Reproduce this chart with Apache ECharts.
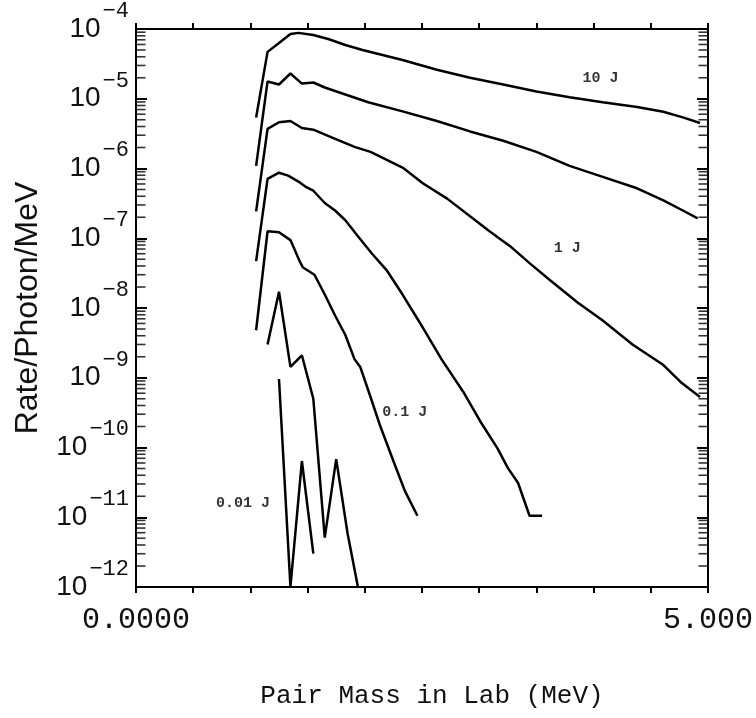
<!DOCTYPE html>
<html>
<head>
<meta charset="utf-8">
<script src="https://cdn.jsdelivr.net/npm/echarts@6/dist/echarts.min.js"></script>
<style>
    html, body { margin: 0; padding: 0; background: #fff; }
    #chart { width: 756px; height: 718px; }
</style>
</head>
<body>
<div id="chart"></div>
<script>
    // pair mass in lab (MeV) vs rate / photon / MeV
    var rate10J = [[1.05, 5.4e-6], [1.15, 4.7e-5], [1.25, 6.3e-5], [1.35, 8.5e-5], [1.42, 8.8e-5], [1.55, 8.2e-5],
        [1.68, 7.2e-5], [1.83, 5.9e-5], [1.98, 5.0e-5], [2.33, 3.6e-5], [2.63, 2.6e-5], [2.92, 2.0e-5],
        [3.21, 1.6e-5], [3.5, 1.27e-5], [3.79, 1.05e-5], [4.08, 8.9e-6], [4.38, 7.6e-6], [4.61, 6.5e-6],
        [4.78, 5.4e-6], [4.93, 4.5e-6]];
    var rateB = [[1.05, 1.09e-6], [1.15, 1.77e-5], [1.25, 1.6e-5], [1.35, 2.3e-5], [1.45, 1.65e-5], [1.55, 1.71e-5],
        [1.65, 1.45e-5], [1.83, 1.15e-5], [2.03, 8.9e-6], [2.33, 6.6e-6], [2.63, 4.8e-6], [2.92, 3.4e-6],
        [3.21, 2.5e-6], [3.5, 1.73e-6], [3.79, 1.09e-6], [4.08, 7.6e-7], [4.38, 5.2e-7], [4.61, 3.5e-7],
        [4.78, 2.5e-7], [4.91, 1.93e-7]];
    var rate1J = [[1.05, 2.43e-7], [1.15, 3.7e-6], [1.25, 4.6e-6], [1.35, 4.8e-6], [1.45, 3.8e-6], [1.55, 3.6e-6],
        [1.71, 2.8e-6], [1.91, 2.04e-6], [2.05, 1.73e-6], [2.33, 1.03e-6], [2.51, 6.1e-7], [2.72, 3.7e-7],
        [2.92, 2.06e-7], [3.09, 1.26e-7], [3.27, 7.7e-8], [3.44, 4.4e-8], [3.62, 2.5e-8], [3.86, 1.2e-8],
        [4.08, 6.6e-9], [4.34, 3.0e-9], [4.61, 1.52e-9], [4.76, 8.7e-10], [4.93, 5.3e-10]];
    var rateD = [[1.05, 4.7e-8], [1.15, 7.1e-7], [1.25, 8.7e-7], [1.33, 7.9e-7], [1.42, 6.5e-7], [1.48, 5.5e-7],
        [1.55, 4.8e-7], [1.65, 3.2e-7], [1.74, 2.5e-7], [1.83, 1.81e-7], [1.94, 1.07e-7], [2.06, 6.1e-8],
        [2.19, 3.5e-8], [2.33, 1.56e-8], [2.48, 6.2e-9], [2.67, 1.85e-9], [2.86, 6.3e-10], [3.01, 2.36e-10],
        [3.16, 9.7e-11], [3.25, 5.1e-11], [3.34, 3.1e-11], [3.44, 1.05e-11], [3.55, 1.05e-11]];
    var rate01J = [[1.05, 4.8e-9], [1.15, 1.26e-7], [1.25, 1.22e-7], [1.35, 9.4e-8], [1.43, 4.7e-8], [1.46, 3.8e-8],
        [1.56, 3.0e-8], [1.65, 1.56e-8], [1.74, 7.8e-9], [1.83, 4.1e-9], [1.91, 1.85e-9], [1.96, 1.43e-9],
        [2.05, 5.3e-10], [2.13, 2.14e-10], [2.25, 6.4e-11], [2.35, 2.39e-11], [2.46, 1.05e-11]];
    var rateF = [[1.15, 3.0e-9], [1.25, 1.71e-8], [1.35, 1.43e-9], [1.45, 2.1e-9], [1.55, 5.0e-10],
        [1.65, 5.1e-12], [1.75, 6.8e-11], [1.85, 5.8e-12], [1.94, 1.0e-12]];
    var rate001J = [[1.25, 9.6e-10], [1.35, 1.0e-12], [1.45, 6.4e-11], [1.55, 3.0e-12]];

    // curve labels, placed in data units
    var curveLabels = [
        {name: '10 J', value: [4.06, 2.0e-5]},
        {name: '1 J', value: [3.77, 7.2e-8]},
        {name: '0.1 J', value: [2.35, 3.2e-10]},
        {name: '0.01 J', value: [0.935, 1.6e-11]}
    ];

    // x tick labels (only the ends are labelled)
    var xLabelValues = [0, 5];
    var xLabelTexts = ['0.0000', '5.000'];

    // minor log ticks 2..9 in every decade
    var minorLeft = [], minorRight = [];
    for (var n = -12; n < -4; n++) {
        for (var k = 2; k <= 9; k++) {
            var v = k * Math.pow(10, n);
            minorLeft.push([0, v]);
            minorRight.push([5, v]);
        }
    }

    var chart = echarts.init(document.getElementById('chart'));

    var lineStyle = {color: '#000', width: 2.5};
    var curves = [rate10J, rateB, rate1J, rateD, rate01J, rateF, rate001J].map(function (d) {
        return {
            type: 'line',
            data: d,
            showSymbol: false,
            symbol: 'none',
            lineStyle: lineStyle,
            silent: true,
            z: 3
        };
    });

    var xBase = {
        type: 'value',
        min: 0,
        max: 5,
        interval: 0.5,
        splitLine: {show: false},
        axisLine: {onZero: false, lineStyle: {color: '#000', width: 2}},
        axisTick: {inside: false, length: 6, lineStyle: {color: '#000', width: 2}}
    };
    var yBase = {
        type: 'log',
        min: 1e-12,
        max: 1e-4,
        splitNumber: 8,
        logBase: 10,
        splitLine: {show: false},
        axisLine: {show: true, onZero: false, lineStyle: {color: '#000', width: 2}},
        axisTick: {inside: true, length: 11, lineStyle: {color: '#000', width: 2}}
    };

    chart.setOption({
        backgroundColor: '#fff',
        animation: false,
        grid: {left: 136, right: 48, top: 24, bottom: 131},
        xAxis: [
            Object.assign({}, xBase, {
                position: 'bottom',
                name: 'Pair Mass in Lab (MeV)',
                nameLocation: 'middle',
                nameGap: 96,
                nameTextStyle: {fontFamily: 'Liberation Mono', fontSize: 26, color: '#111', padding: [0, 0, 0, 20]},
                axisLabel: {
                    margin: 18,
                    fontFamily: 'Liberation Mono',
                    fontSize: 30,
                    color: '#111',
                    formatter: function (v) {
                        var i = xLabelValues.indexOf(Math.round(v * 1000) / 1000);
                        return i >= 0 ? xLabelTexts[i] : '';
                    }
                }
            }),
            Object.assign({}, xBase, {
                position: 'top',
                axisLabel: {show: false}
            })
        ],
        yAxis: [
            Object.assign({}, yBase, {
                position: 'left',
                name: 'Rate/Photon/MeV',
                nameLocation: 'middle',
                nameGap: 92,
                nameTextStyle: {fontFamily: 'Liberation Sans', fontSize: 32, color: '#111'},
                axisLabel: {
                    margin: 7,
                    formatter: function (v) {
                        var e = Math.round(Math.log10(v));
                        return '{b|10}{e|' + String(e).replace('-', '\u2212') + '}';
                    },
                    rich: {
                        b: {fontFamily: 'Liberation Sans', fontSize: 28, color: '#111', verticalAlign: 'middle'},
                        e: {fontFamily: 'Liberation Mono', fontSize: 22, color: '#111', verticalAlign: 'middle', padding: [0, 0, 36, 2]}
                    }
                }
            }),
            Object.assign({}, yBase, {
                position: 'right',
                axisLabel: {show: false}
            })
        ],
        series: curves.concat([
            {
                type: 'scatter',
                data: minorLeft,
                symbol: 'rect',
                symbolSize: [9, 1.6],
                symbolOffset: [5, 0],
                itemStyle: {color: '#000'},
                silent: true,
                clip: false
            },
            {
                type: 'scatter',
                data: minorRight,
                symbol: 'rect',
                symbolSize: [9, 1.6],
                symbolOffset: [-5, 0],
                itemStyle: {color: '#000'},
                silent: true,
                clip: false
            },
            {
                type: 'scatter',
                data: curveLabels,
                symbolSize: 0,
                silent: true,
                label: {
                    show: true,
                    position: 'inside',
                    formatter: '{b}',
                    fontFamily: 'Liberation Mono',
                    fontWeight: 'bold',
                    fontSize: 15,
                    color: '#000'
                }
            }
        ])
    });

    window.onresize = function () {
        chart.resize();
    };
</script>
</body>
</html>
